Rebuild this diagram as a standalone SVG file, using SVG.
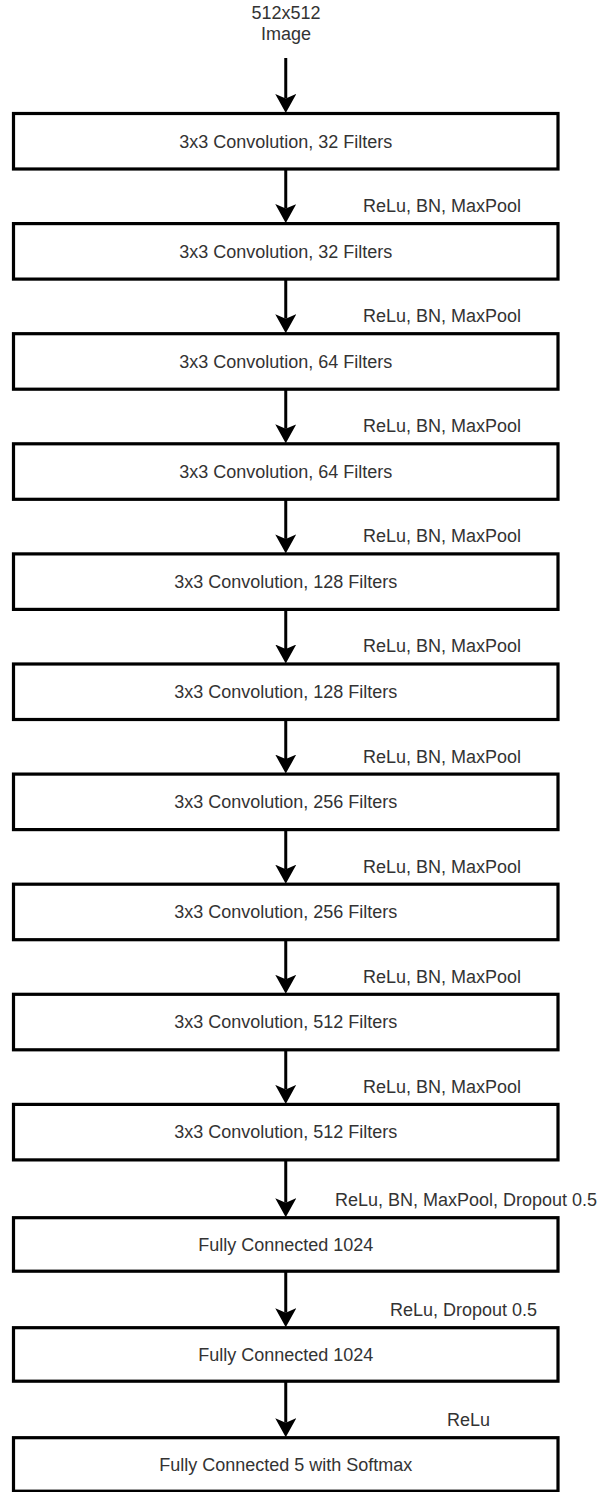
<svg xmlns="http://www.w3.org/2000/svg" width="598" height="1492" viewBox="0 0 598 1492">
<style>
  .box { fill: #ffffff; stroke: #000000; stroke-width: 3.2; }
  .t { font-family: "Liberation Sans", Arial, sans-serif; font-size: 18px; fill: #333333; }
  .c { text-anchor: middle; }
  .edge { stroke: #000000; stroke-width: 3; fill: none; marker-end: url(#arr); }
</style>
<defs>
  <marker id="arr" viewBox="0 0 19 21" markerWidth="19" markerHeight="21" refX="4.5" refY="10.5" orient="auto" markerUnits="userSpaceOnUse">
    <path d="M0,0 L19,10.5 L0,21 L4.5,10.5 Z" fill="#000000"/>
  </marker>
</defs>
<rect width="598" height="1492" fill="#ffffff"/>

<g id="input">
  <text class="t c" x="286" y="18.5">512x512</text>
  <text class="t c" x="286" y="39.5">Image</text>
</g>

<g id="conv1"><rect class="box" x="13.5" y="113.5" width="544.5" height="55.5"/><text class="t c" x="285.75" y="147.5">3x3 Convolution, 32 Filters</text></g>
<g id="conv2"><rect class="box" x="13.5" y="223.6" width="544.5" height="55.5"/><text class="t c" x="285.75" y="257.6">3x3 Convolution, 32 Filters</text></g>
<g id="conv3"><rect class="box" x="13.5" y="333.7" width="544.5" height="55.5"/><text class="t c" x="285.75" y="367.7">3x3 Convolution, 64 Filters</text></g>
<g id="conv4"><rect class="box" x="13.5" y="443.8" width="544.5" height="55.5"/><text class="t c" x="285.75" y="477.8">3x3 Convolution, 64 Filters</text></g>
<g id="conv5"><rect class="box" x="13.5" y="553.9" width="544.5" height="55.5"/><text class="t c" x="285.75" y="587.9">3x3 Convolution, 128 Filters</text></g>
<g id="conv6"><rect class="box" x="13.5" y="664.0" width="544.5" height="55.5"/><text class="t c" x="285.75" y="698.0">3x3 Convolution, 128 Filters</text></g>
<g id="conv7"><rect class="box" x="13.5" y="774.1" width="544.5" height="55.5"/><text class="t c" x="285.75" y="808.1">3x3 Convolution, 256 Filters</text></g>
<g id="conv8"><rect class="box" x="13.5" y="884.2" width="544.5" height="55.5"/><text class="t c" x="285.75" y="918.2">3x3 Convolution, 256 Filters</text></g>
<g id="conv9"><rect class="box" x="13.5" y="994.3" width="544.5" height="55.5"/><text class="t c" x="285.75" y="1028.3">3x3 Convolution, 512 Filters</text></g>
<g id="conv10"><rect class="box" x="13.5" y="1104.4" width="544.5" height="55.5"/><text class="t c" x="285.75" y="1138.4">3x3 Convolution, 512 Filters</text></g>
<g id="fc1"><rect class="box" x="13.5" y="1217.7" width="544.5" height="53.5"/><text class="t c" x="285.75" y="1250.7">Fully Connected 1024</text></g>
<g id="fc2"><rect class="box" x="13.5" y="1327.7" width="544.5" height="53.5"/><text class="t c" x="285.75" y="1360.7">Fully Connected 1024</text></g>
<g id="fc3"><rect class="box" x="13.5" y="1437.7" width="544.5" height="53.5"/><text class="t c" x="285.75" y="1470.7">Fully Connected 5 with Softmax</text></g>

<g id="connectors">
  <line class="edge" x1="285.75" y1="58" x2="285.75" y2="98.5"/>
  <line class="edge" x1="285.75" y1="169" x2="285.75" y2="208.6"/>
  <line class="edge" x1="285.75" y1="279.1" x2="285.75" y2="318.7"/>
  <line class="edge" x1="285.75" y1="389.2" x2="285.75" y2="428.8"/>
  <line class="edge" x1="285.75" y1="499.3" x2="285.75" y2="538.9"/>
  <line class="edge" x1="285.75" y1="609.4" x2="285.75" y2="649.0"/>
  <line class="edge" x1="285.75" y1="719.5" x2="285.75" y2="759.1"/>
  <line class="edge" x1="285.75" y1="829.6" x2="285.75" y2="869.2"/>
  <line class="edge" x1="285.75" y1="939.7" x2="285.75" y2="979.3"/>
  <line class="edge" x1="285.75" y1="1049.8" x2="285.75" y2="1089.4"/>
  <line class="edge" x1="285.75" y1="1159.9" x2="285.75" y2="1202.7"/>
  <line class="edge" x1="285.75" y1="1271.2" x2="285.75" y2="1312.7"/>
  <line class="edge" x1="285.75" y1="1381.2" x2="285.75" y2="1422.7"/>
  <text class="t" x="363" y="212">ReLu, BN, MaxPool</text>
  <text class="t" x="363" y="322.1">ReLu, BN, MaxPool</text>
  <text class="t" x="363" y="432.2">ReLu, BN, MaxPool</text>
  <text class="t" x="363" y="542.3">ReLu, BN, MaxPool</text>
  <text class="t" x="363" y="652.4">ReLu, BN, MaxPool</text>
  <text class="t" x="363" y="762.5">ReLu, BN, MaxPool</text>
  <text class="t" x="363" y="872.6">ReLu, BN, MaxPool</text>
  <text class="t" x="363" y="982.7">ReLu, BN, MaxPool</text>
  <text class="t" x="363" y="1092.8">ReLu, BN, MaxPool</text>
  <text class="t" x="335" y="1205.5">ReLu, BN, MaxPool, Dropout 0.5</text>
  <text class="t" x="390" y="1315.5">ReLu, Dropout 0.5</text>
  <text class="t" x="447" y="1425.5">ReLu</text>
</g>
</svg>
